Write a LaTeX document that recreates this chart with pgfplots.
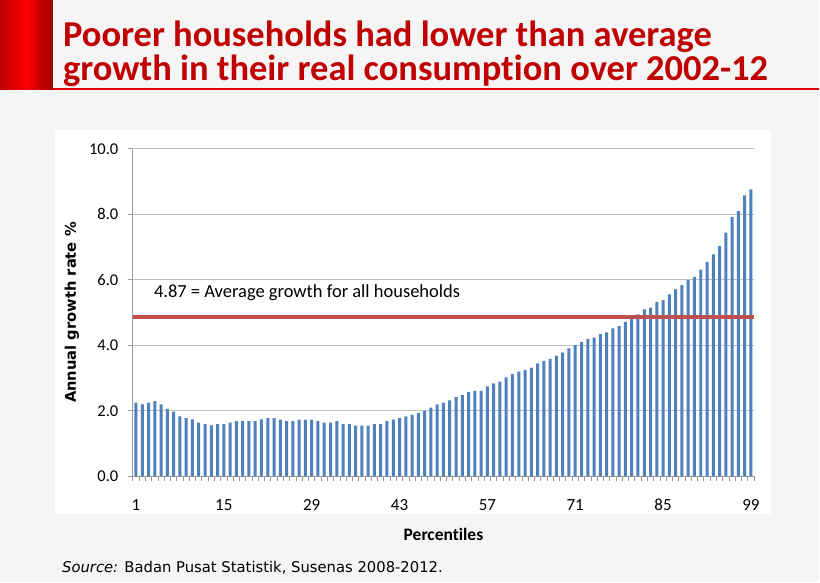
\documentclass[border=0pt]{standalone}
\usepackage{pgfplots}
\pgfplotsset{compat=1.18}
\usepackage{fontspec}
\setmainfont{Carlito}[Ligatures=NoCommon]
\newfontfamily\srcfont{DejaVu Sans}
\definecolor{barblue}{HTML}{4F81BD}
\definecolor{avgred}{HTML}{C0504D}
\definecolor{titlered}{HTML}{C00000}
\definecolor{gridgray}{HTML}{BFBFBF}
\definecolor{axgray}{HTML}{999999}
\pgfplotstableread{
x y
1 2.25
2 2.20
3 2.25
4 2.30
5 2.20
6 2.06
7 1.98
8 1.83
9 1.78
10 1.74
11 1.64
12 1.60
13 1.56
14 1.60
15 1.60
16 1.64
17 1.69
18 1.69
19 1.69
20 1.69
21 1.74
22 1.78
23 1.78
24 1.73
25 1.69
26 1.69
27 1.73
28 1.73
29 1.73
30 1.69
31 1.64
32 1.64
33 1.69
34 1.60
35 1.60
36 1.55
37 1.55
38 1.55
39 1.60
40 1.60
41 1.69
42 1.73
43 1.78
44 1.83
45 1.88
46 1.93
47 2.00
48 2.10
49 2.20
50 2.25
51 2.32
52 2.42
53 2.48
54 2.57
55 2.61
56 2.61
57 2.75
58 2.84
59 2.89
60 3.02
61 3.12
62 3.20
63 3.25
64 3.32
65 3.45
66 3.53
67 3.58
68 3.69
69 3.78
70 3.91
71 4.01
72 4.11
73 4.19
74 4.24
75 4.34
76 4.40
77 4.52
78 4.59
79 4.72
80 4.87
81 4.95
82 5.10
83 5.15
84 5.33
85 5.38
86 5.56
87 5.71
88 5.84
89 5.99
90 6.09
91 6.31
92 6.55
93 6.78
94 7.03
95 7.44
96 7.92
97 8.10
98 8.58
99 8.76
}\growth
\begin{document}
\begin{tikzpicture}
\fill[black!4] (0pt,0pt) rectangle (820pt,583pt);
\fill[white] (55pt,68pt) rectangle (772pt,453pt);
\shade[left color=red!75!black, right color=red!60!black, middle color=red] (0pt,493pt) rectangle (53pt,583pt);
\draw[red!90!black, line width=2pt] (53pt,494pt) -- (820pt,494pt);
\node[anchor=base west, inner sep=0pt, text=titlered, font=\fontsize{36.5}{40}\bfseries\selectfont] at (63pt,536pt) {Poorer households had lower than average};
\node[anchor=base west, inner sep=0pt, text=titlered, font=\fontsize{36.5}{40}\bfseries\selectfont] at (63pt,502pt) {growth in their real consumption over 2002-12};
\node[anchor=base west, inner sep=0pt, font=\srcfont\fontsize{14.8}{17}\selectfont] at (62pt,10pt) {\textit{Source:} Badan Pusat Statistik, Susenas 2008-2012.};
\begin{axis}[
  at={(133pt,106pt)}, anchor=south west,
  scale only axis, width=622pt, height=328pt,
  xmin=0.5, xmax=99.5, ymin=0, ymax=10,
  axis x line*=bottom, axis y line*=left,
  axis line style={axgray, line width=0.8pt},
  tick align=outside,
  ytick={0,2,...,10},
  ymajorgrids, grid style={gridgray, line width=0.8pt},
  major tick length=5pt,
  tick style={axgray, line width=0.8pt},
  xtick={0.5,1.5,...,99.5},
  xticklabels={},
  extra x ticks={1,15,29,43,57,71,85,99},
  extra x tick style={major tick length=0pt, grid=none},
  /pgf/number format/assume math mode=true,
  xticklabel style={font=\fontsize{17}{20}\selectfont, anchor=base, yshift=-34pt},
  yticklabel style={font=\fontsize{16.5}{19}\selectfont, xshift=-6pt, /pgf/number format/fixed, /pgf/number format/fixed zerofill, /pgf/number format/precision=1},
  xlabel={Percentiles},
  ylabel={Annual growth rate \%},
  xlabel style={font=\fontsize{17.5}{20}\bfseries\selectfont, at={(axis description cs:0.5,-0.177)}, anchor=center},
  ylabel style={font=\srcfont\fontsize{14.7}{17}\bfseries\selectfont, at={(axis description cs:-0.098,0.5)}, anchor=center},
  clip=false,
]
\addplot[ybar, bar width=3pt, fill=barblue, draw=none] table[x=x,y=y] {\growth};
\addplot[avgred, line width=4pt, line cap=butt] coordinates {(0.5,4.87) (99.5,4.87)};
\node[anchor=west, inner sep=0pt, font=\fontsize{18.5}{21}\selectfont] at (axis cs:3.85,5.61) {4.87 = Average growth for all households};
\end{axis}
\end{tikzpicture}
\end{document}
